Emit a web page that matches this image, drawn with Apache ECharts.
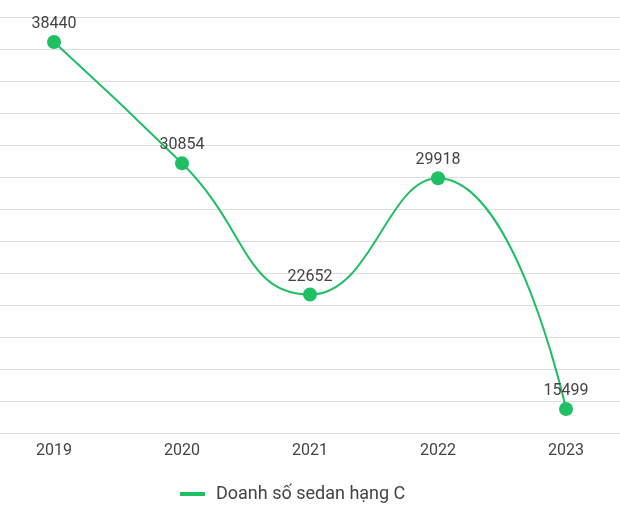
<!DOCTYPE html>
<html><head><meta charset="utf-8">
<script src="https://cdn.jsdelivr.net/npm/echarts@6/dist/echarts.min.js"></script>
<style>html,body{margin:0;padding:0;background:#fff;overflow:hidden}#c{width:640px;height:520px;margin-left:-10px}</style>
</head><body><div id="c"></div>
<script>
var categories = ['2019','2020','2021','2022','2023'];
var seriesName = 'Doanh số sedan hạng C';
var values = [38440, 30854, 22652, 29918, 15499];
var chart = echarts.init(document.getElementById('c'));
chart.setOption({
  animation: false,
  textStyle: {fontFamily: 'Roboto'},
  grid: {left: 0, right: 0, top: 17, bottom: 87, containLabel: false},
  legend: {
    bottom: 12, left: 185,
    itemWidth: 25, itemHeight: 4, icon: 'rect',
    textStyle: {fontSize: 18, color: '#444', fontFamily: 'Roboto', padding: [0, 0, 0, 6]},
    data: [seriesName]
  },
  xAxis: {
    type: 'category', data: categories, boundaryGap: true,
    axisLine: {show: false}, axisTick: {show: false},
    axisLabel: {fontSize: 16, color: '#444', margin: 10, fontFamily: 'Roboto'}
  },
  yAxis: {
    type: 'value', min: 14000, max: 40000, interval: 2000,
    axisLabel: {show: false}, axisLine: {show: false}, axisTick: {show: false},
    splitLine: {lineStyle: {color: '#dddddd', width: 1}}
  },
  series: [{
    name: seriesName, type: 'line', data: values, smooth: true,
    symbol: 'circle', symbolSize: 14,
    itemStyle: {color: '#1fbf63'},
    lineStyle: {color: '#1fbf63', width: 2},
    label: {show: true, position: 'top', fontSize: 16, color: '#444', distance: 3, fontFamily: 'Roboto'}
  }]
});
</script></body></html>
